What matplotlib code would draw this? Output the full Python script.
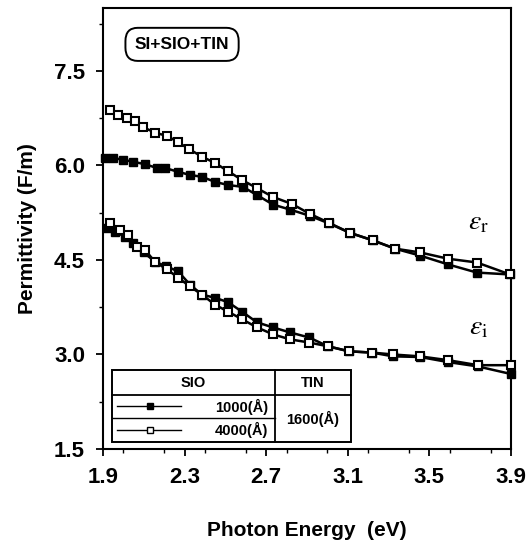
import matplotlib
matplotlib.use('Agg')
import matplotlib.pyplot as plt
from matplotlib.patches import FancyBboxPatch, Rectangle
from matplotlib.ticker import MultipleLocator
import numpy as np

plt.rcParams['font.family'] = ['Liberation Sans', 'DejaVu Sans']
plt.rcParams['mathtext.fontset'] = 'stix'

# eps_r, SiO 4000 A (open squares)
er_open_x = [1.934, 1.974, 2.018, 2.057, 2.096, 2.155, 2.214, 2.268, 2.322, 2.385,
             2.449, 2.513, 2.581, 2.655, 2.733, 2.826, 2.915, 3.008, 3.111, 3.224,
             3.331, 3.454, 3.591, 3.733, 3.895]
er_open_y = [6.88, 6.80, 6.75, 6.70, 6.61, 6.52, 6.47, 6.37, 6.26, 6.14,
             6.04, 5.91, 5.77, 5.64, 5.50, 5.39, 5.23, 5.09, 4.93, 4.81,
             4.68, 4.62, 4.52, 4.46, 4.27]
# eps_r, SiO 1000 A (filled squares)
er_fill_x = [1.91, 1.95, 1.998, 2.047, 2.106, 2.165, 2.204, 2.268, 2.326, 2.385,
             2.449, 2.513, 2.586, 2.655, 2.733, 2.817, 2.915, 3.008, 3.111, 3.224,
             3.331, 3.454, 3.591, 3.733, 3.895]
er_fill_y = [6.12, 6.12, 6.09, 6.06, 6.02, 5.96, 5.96, 5.90, 5.85, 5.82,
             5.74, 5.69, 5.66, 5.53, 5.38, 5.30, 5.20, 5.08, 4.93, 4.81,
             4.68, 4.57, 4.43, 4.30, 4.27]
# eps_i, SiO 4000 A (open squares)
ei_open_x = [1.934, 1.983, 2.023, 2.067, 2.106, 2.155, 2.214, 2.268, 2.326, 2.385,
             2.449, 2.513, 2.581, 2.655, 2.733, 2.817, 2.910, 3.003, 3.106, 3.219,
             3.322, 3.454, 3.591, 3.738, 3.900]
ei_open_y = [5.09, 4.98, 4.90, 4.70, 4.66, 4.47, 4.35, 4.22, 4.08, 3.95,
             3.79, 3.68, 3.56, 3.43, 3.32, 3.24, 3.19, 3.13, 3.05, 3.03,
             3.00, 2.97, 2.91, 2.83, 2.83]
# eps_i, SiO 1000 A (filled squares)
ei_fill_x = [1.92, 1.959, 2.008, 2.047, 2.10, 2.155, 2.21, 2.268, 2.326, 2.385,
             2.449, 2.513, 2.581, 2.655, 2.733, 2.817, 2.910, 3.003, 3.106, 3.219,
             3.322, 3.454, 3.591, 3.738, 3.900]
ei_fill_y = [5.01, 4.95, 4.87, 4.77, 4.62, 4.47, 4.40, 4.32, 4.11, 3.95,
             3.90, 3.83, 3.68, 3.51, 3.43, 3.35, 3.27, 3.13, 3.05, 3.03,
             2.97, 2.96, 2.88, 2.81, 2.69]

xticks = [1.9, 2.3, 2.7, 3.1, 3.5, 3.9]
yticks = [1.5, 3.0, 4.5, 6.0, 7.5]

fig = plt.figure(figsize=(5.29, 5.47), dpi=100)
ax = fig.add_axes([0.1947, 0.1792, 0.7713, 0.8062])

ms = 6
for x, y in [(er_fill_x, er_fill_y), (ei_fill_x, ei_fill_y)]:
    ax.plot(x, y, color='black', lw=1.8, marker='s', ms=ms,
            mfc='black', mec='black', clip_on=False, zorder=3)
for x, y in [(er_open_x, er_open_y), (ei_open_x, ei_open_y)]:
    ax.plot(x, y, color='black', lw=1.8, marker='s', ms=ms,
            mfc='white', mec='black', mew=1.5, clip_on=False, zorder=4)

ax.set_xlim(1.9, 3.9)
ax.set_ylim(1.5, 8.5)
ax.set_xticks(xticks)
ax.set_yticks(yticks)
ax.set_xticklabels([f'{v:.1f}' for v in xticks])
ax.set_yticklabels([f'{v:.1f}' for v in yticks])
ax.xaxis.set_minor_locator(MultipleLocator(0.2))
ax.yaxis.set_minor_locator(MultipleLocator(0.75))
ax.tick_params(which='major', direction='out', length=5, width=1.3,
               labelsize=16, pad=8)
ax.tick_params(which='minor', direction='out', length=3, width=1.0)
for lab in ax.get_xticklabels() + ax.get_yticklabels():
    lab.set_fontweight('bold')
for s in ax.spines.values():
    s.set_linewidth(1.5)

ax.set_xlabel('Photon Energy  (eV)', fontsize=15, fontweight='bold', labelpad=24)
ax.set_ylabel('Permittivity (F/m)', fontsize=15, fontweight='bold', labelpad=12)

# sample label box
ax.add_patch(FancyBboxPatch((0.055, 0.88), 0.2775, 0.075,
                            boxstyle='round,pad=0.0,rounding_size=0.03',
                            transform=ax.transAxes, fc='white', ec='black', lw=1.4))
ax.text(0.194, 0.918, 'SI+SIO+TIN', transform=ax.transAxes, ha='center',
        va='center', fontsize=12.5, fontweight='bold')

# curve labels
ax.text(3.74, 5.1, r'$\mathit{\varepsilon}_{\mathrm{r}}$', fontsize=20, ha='center', va='center')
ax.text(3.74, 3.43, r'$\mathit{\varepsilon}_{\mathrm{i}}$', fontsize=20, ha='center', va='center')

# legend table
tx0, tx1, tdiv = 0.022, 0.608, 0.4216
ty0, ty1, yh, yr = 0.016, 0.179, 0.1224, 0.0703
ax.add_patch(Rectangle((tx0, ty0), tx1 - tx0, ty1 - ty0, transform=ax.transAxes,
                       fc='white', ec='black', lw=1.4, zorder=5))
ax.plot([tx0, tx1], [yh, yh], transform=ax.transAxes, color='black', lw=1.3, zorder=6)
ax.plot([tdiv, tdiv], [ty0, ty1], transform=ax.transAxes, color='black', lw=1.3, zorder=6)
ax.plot([tx0, tdiv], [yr, yr], transform=ax.transAxes, color='black', lw=1.0, zorder=6)
ax.text((tx0 + tdiv) / 2, (yh + ty1) / 2, 'SIO', transform=ax.transAxes,
        ha='center', va='center', fontsize=10.5, fontweight='bold', zorder=7)
ax.text((tdiv + tx1) / 2, (yh + ty1) / 2, 'TIN', transform=ax.transAxes,
        ha='center', va='center', fontsize=10.5, fontweight='bold', zorder=7)
row_y = [(yh + yr) / 2, (yr + ty0) / 2]
row_txt = ['1000(Å)', '4000(Å)']
row_fc = ['black', 'white']
for ry, rt, fc in zip(row_y, row_txt, row_fc):
    ax.plot([0.035, 0.19], [ry, ry], transform=ax.transAxes, color='black',
            lw=1.0, zorder=7)
    ax.plot([0.115], [ry], transform=ax.transAxes, marker='s', ms=5,
            mfc=fc, mec='black', zorder=8)
    ax.text(0.405, ry, rt, transform=ax.transAxes, ha='right', va='center',
            fontsize=10.5, fontweight='bold', zorder=7)
ax.text((tdiv + tx1) / 2, (yh + ty0) / 2, '1600(Å)', transform=ax.transAxes,
        ha='center', va='center', fontsize=10.5, fontweight='bold', zorder=7)

fig.savefig('out.png', dpi=100)
